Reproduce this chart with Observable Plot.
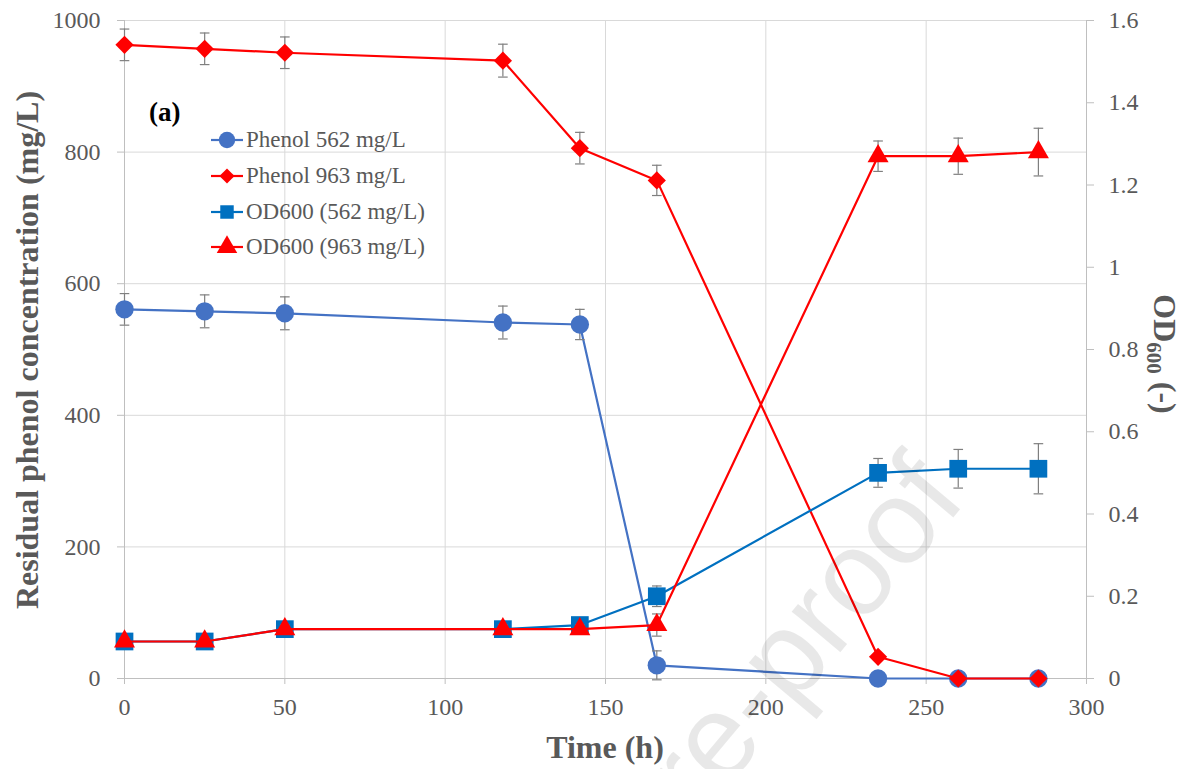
<!DOCTYPE html>
<html><head><meta charset="utf-8">
<script src="https://cdn.jsdelivr.net/npm/d3@7"></script>
<script src="https://cdn.jsdelivr.net/npm/@observablehq/plot@0.6"></script>
<style>
body{margin:0;background:#fff;}
#wrap{position:relative;width:1185px;height:769px;font-family:"Liberation Serif","Times New Roman",serif;}
#wrap > svg{position:absolute;left:0;top:0}
#wrap g[aria-label$="tick"]{stroke:#bfbfbf}
#wrap text:not(.wm){font-family:"Liberation Serif","Times New Roman",serif !important;}
</style></head><body><div id="wrap"></div>
<script>
// ---- data ----
const time = [0, 25, 50, 118, 142, 166, 235, 260, 285];
const phenol562 = [561, 558, 555, 541, 538, 20, 0, 0, 0];
const phenol562Err = [24, 25, 25, 25, 23, 22, 0, 0, 0];
const phenol963 = [963, 957, 951, 939, 806, 757, 33, 0, 0];
const phenol963Err = [24, 24, 24, 25, 24, 23, 0, 0, 0];
const od562 = [0.09, 0.09, 0.12, 0.12, 0.13, 0.20, 0.50, 0.51, 0.51];
const od562Err = [0.01, 0.01, 0.01, 0.01, 0.01, 0.025, 0.035, 0.047, 0.061];
const od963 = [0.09, 0.09, 0.12, 0.12, 0.12, 0.13, 1.27, 1.27, 1.28];
const od963Err = [0.01, 0.01, 0.01, 0.01, 0.01, 0.027, 0.037, 0.044, 0.058];
const seriesNames = ["Phenol 562 mg/L", "Phenol 963 mg/L", "OD600 (562 mg/L)", "OD600 (963 mg/L)"];
const leftTicks = [0, 200, 400, 600, 800, 1000];
const rightTicks = [0, 0.2, 0.4, 0.6, 0.8, 1, 1.2, 1.4, 1.6];
const xTicks = [0, 50, 100, 150, 200, 250, 300];

const K = 1000 / 1.6; // OD -> left-axis units
const rows = (vals, errs, k = 1) => time.map((t, i) => ({t, v: vals[i] * k, e: errs[i] * k}));

const S = [
  {data: rows(phenol562, phenol562Err), color: "#4472C4", line: "#4472C4", symbol: "circle", r: 9.2},
  {data: rows(phenol963, phenol963Err), color: "#FF0000", line: "#FF0000", symbol: "diamond2", r: 8.2},
  {data: rows(od562, od562Err, K), color: "#0070C0", line: "#0070C0", symbol: "square", r: 10},
  {data: rows(od963, od963Err, K), color: "#FF0000", line: "#FF0000", symbol: "triangle", r: 7.8}
];

const marks = [
  Plot.gridY(leftTicks, {stroke: "#d9d9d9", strokeOpacity: 1}),
  Plot.gridX(xTicks, {stroke: "#d9d9d9", strokeOpacity: 1}),
  Plot.ruleX([0, 300], {stroke: "#bfbfbf"}),
  Plot.ruleY([0], {stroke: "#bfbfbf"}),
  Plot.axisY({ticks: leftTicks, tickFormat: d => String(d), tickSize: 7, tickPadding: 17, fontSize: 24, label: null}),
  Plot.axisY({anchor: "right", ticks: rightTicks.map(v => v * K), tickFormat: d => String(+(d / K).toFixed(1)), tickSize: 7, tickPadding: 15, fontSize: 24, label: null}),
  Plot.axisX({ticks: xTicks, tickFormat: d => String(d), tickSize: 6, tickPadding: 13, fontSize: 24, label: null})
];
for (const s of S) {
  const eb = s.data.filter(d => d.e > 0);
  marks.push(
    Plot.line(s.data, {x: "t", y: "v", stroke: s.line, strokeWidth: 2.2}),
    Plot.ruleX(eb, {x: "t", y1: d => d.v - d.e, y2: d => d.v + d.e, stroke: "#7f7f7f", strokeWidth: 1.2}),
    Plot.link(eb, {x1: d => d.t - 1.5, x2: d => d.t + 1.5, y1: d => d.v + d.e, y2: d => d.v + d.e, stroke: "#7f7f7f", strokeWidth: 1.2}),
    Plot.link(eb, {x1: d => d.t - 1.5, x2: d => d.t + 1.5, y1: d => d.v - d.e, y2: d => d.v - d.e, stroke: "#7f7f7f", strokeWidth: 1.2}),
    Plot.dot(s.data, {x: "t", y: "v", fill: s.color, stroke: "none", symbol: s.symbol, r: s.r})
  );
}

const chart = Plot.plot({
  width: 1185, height: 769,
  marginLeft: 124, marginRight: 99, marginTop: 20, marginBottom: 91,
  x: {domain: [0, 300]},
  y: {domain: [0, 1000]},
  style: {fontFamily: "'Liberation Serif', 'Times New Roman', serif", color: "#595959", background: "#fff"},
  marks
});
const wrap = document.getElementById("wrap");
wrap.appendChild(chart);

// ---- overlay: titles, legend, label ----
const ov = d3.select(wrap).append("svg").attr("width", 1185).attr("height", 769);

ov.append("text").attr("transform", "translate(38,350) rotate(-90)").attr("text-anchor", "middle")
  .attr("font-size", 32).attr("font-weight", "bold").attr("fill", "#595959")
  .text("Residual phenol concentration (mg/L)");
ov.append("text").attr("x", 605).attr("y", 758).attr("text-anchor", "middle")
  .attr("font-size", 32).attr("font-weight", "bold").attr("fill", "#595959").text("Time (h)");
const rt = ov.append("text").attr("transform", "translate(1154,354) rotate(90)").attr("text-anchor", "middle")
  .attr("font-size", 32).attr("font-weight", "bold").attr("fill", "#595959");
rt.append("tspan").text("OD");
rt.append("tspan").attr("font-size", 21).attr("dy", 7).text("600");
rt.append("tspan").attr("dy", -7).text(" (-)");

ov.append("text").attr("x", 149).attr("y", 121).attr("font-size", 27).attr("font-weight", "bold")
  .attr("fill", "#000").text("(a)");

const legY = [140, 176, 212, 247];
const symMap = {circle: d3.symbolCircle, diamond2: d3.symbolDiamond2, square: d3.symbolSquare, triangle: d3.symbolTriangle};
S.forEach((s, i) => {
  const g = ov.append("g").attr("transform", `translate(0,${legY[i]})`);
  g.append("line").attr("x1", 211).attr("x2", 243).attr("y1", 0).attr("y2", 0).attr("stroke", s.line).attr("stroke-width", 2.2);
  g.append("path").attr("transform", "translate(227,0)")
    .attr("d", d3.symbol(symMap[s.symbol], (i === 1 ? 6.8 : i === 0 ? 8.2 : 7.6) ** 2 * Math.PI)())
    .attr("fill", s.color);
  g.append("text").attr("x", 246).attr("y", 7).attr("font-size", 23).attr("fill", "#595959").text(seriesNames[i]);
});

ov.append("text").attr("class", "wm").attr("transform", "translate(968,500) rotate(-50)").attr("text-anchor", "end")
  .attr("font-family", "Liberation Sans, Arial, sans-serif").attr("font-size", 120)
  .attr("fill", "#000").attr("fill-opacity", 0.09).text("Journal Pre-proof");
</script></body></html>
